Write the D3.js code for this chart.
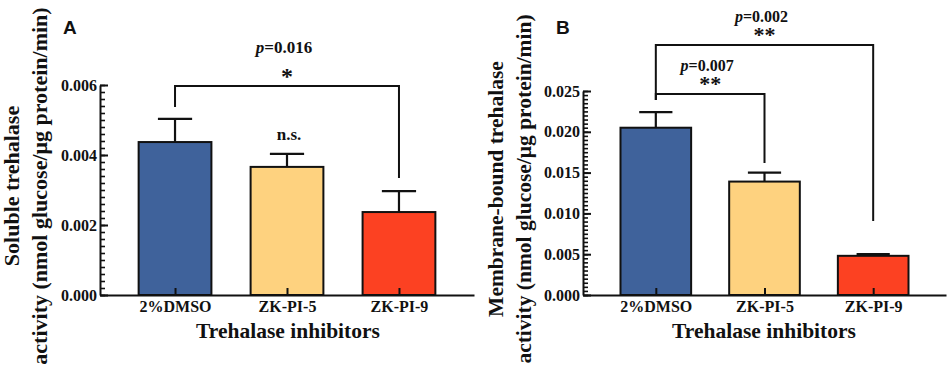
<!DOCTYPE html>
<html>
<head>
<meta charset="utf-8">
<script src="https://cdn.jsdelivr.net/npm/d3@7"></script>
<style>
    body { margin: 0; background: #fff; }
    svg { display: block; }
    text { font-family: 'Times New Roman', 'Liberation Serif', serif; font-weight: bold; fill: #111; }
    .panel-letter { font-family: Arial, 'Liberation Sans', sans-serif; }
</style>
</head>
<body>
<div id="chart"></div>
<script>
'use strict';

// Chart data
const categories = ['2%DMSO', 'ZK-PI-5', 'ZK-PI-9'];
const barColors = ['#3f629b', '#fed27f', '#fc4122'];

const solubleMeans = [0.00437, 0.00366, 0.00237];
const solubleErrors = [0.00066, 0.00037, 0.00060];
const solubleTicks = [0, 0.002, 0.004, 0.006];

const membraneMeans = [0.0205, 0.0139, 0.0048];
const membraneErrors = [0.0019, 0.0011, 0.0002];
const membraneTicks = [0, 0.005, 0.010, 0.015, 0.020, 0.025];

// significance brackets: bar value, leg end values and labels
const solubleBrackets = [
    { from: '2%DMSO', to: 'ZK-PI-9', level: 0.00597, leftEnd: 0.00537, rightEnd: 0.00334, p: '0.016', stars: '*' }
];
const solubleNotes = [
    { at: 'ZK-PI-5', text: 'n.s.' }
];
const membraneBrackets = [
    { from: '2%DMSO', to: 'ZK-PI-9', level: 0.03064, leftEnd: 0.0239, rightEnd: 0.00907, p: '0.002', stars: '**' },
    { from: '2%DMSO', to: 'ZK-PI-5', level: 0.02463, leftEnd: 0.0239, rightEnd: 0.01618, p: '0.007', stars: '**' }
];

const width = 948, height = 371;

const svg = d3.select('#chart').append('svg')
    .attr('width', width)
    .attr('height', height);

function drawPanel(cfg) {
    const g = svg.append('g');

    const x = d3.scalePoint()
        .domain(categories)
        .range([cfg.left, cfg.right])
        .padding(0.67);

    const y = d3.scaleLinear()
        .domain([0, d3.max(cfg.ticks)])
        .range([cfg.bottom, cfg.top]);

    const barW = x.step() * 0.65;
    const capW = barW * 0.47;

    const rows = categories.map((c, i) => ({
        cat: c, mean: cfg.means[i], err: cfg.errors[i], color: barColors[i]
    }));

    // error bars (behind the bars)
    g.selectAll('line.err')
        .data(rows)
        .join('line')
        .attr('x1', d => x(d.cat)).attr('x2', d => x(d.cat))
        .attr('y1', d => y(d.mean)).attr('y2', d => y(d.mean + d.err))
        .attr('stroke', '#111').attr('stroke-width', 2.2);

    g.selectAll('line.cap')
        .data(rows)
        .join('line')
        .attr('x1', d => x(d.cat) - capW / 2).attr('x2', d => x(d.cat) + capW / 2)
        .attr('y1', d => y(d.mean + d.err)).attr('y2', d => y(d.mean + d.err))
        .attr('stroke', '#111').attr('stroke-width', 2.2);

    g.selectAll('rect.bar')
        .data(rows)
        .join('rect')
        .attr('x', d => x(d.cat) - barW / 2)
        .attr('y', d => y(d.mean))
        .attr('width', barW)
        .attr('height', d => y(0) - y(d.mean))
        .attr('fill', d => d.color)
        .attr('stroke', '#111')
        .attr('stroke-width', 2);

    // x axis, ticks pointing up into the bars
    const axisX = g.append('g')
        .attr('transform', `translate(0, ${cfg.bottom})`)
        .call(d3.axisBottom(x).tickSizeInner(-7).tickSizeOuter(0).tickPadding(6));
    axisX.selectAll('path, line').attr('stroke', '#111').attr('stroke-width', 2);
    axisX.attr('font-family', null).attr('font-size', null);
    axisX.selectAll('text').style('font-size', '16px');

    // y axis, inward major and minor ticks
    const minorStep = cfg.ticks[1] / 10;
    const minor = d3.range(0, d3.max(cfg.ticks) + minorStep / 2, minorStep);
    const axisMinor = g.append('g')
        .attr('transform', `translate(${cfg.left}, 0)`)
        .call(d3.axisLeft(y).tickValues(minor).tickSizeInner(-5).tickSizeOuter(0).tickFormat(''));
    axisMinor.select('.domain').remove();
    axisMinor.selectAll('line').attr('stroke', '#111').attr('stroke-width', 1.6);

    const axisY = g.append('g')
        .attr('transform', `translate(${cfg.left}, 0)`)
        .call(d3.axisLeft(y).tickValues(cfg.ticks).tickSizeInner(-8).tickSizeOuter(0)
            .tickPadding(3).tickFormat(d3.format('.3f')));
    axisY.selectAll('path, line').attr('stroke', '#111').attr('stroke-width', 2);
    axisY.attr('font-family', null).attr('font-size', null);
    axisY.selectAll('text').style('font-size', '16px');

    // axis titles
    g.append('text')
        .attr('x', cfg.xTitleX).attr('y', 338)
        .attr('text-anchor', 'middle')
        .style('font-size', '21.5px')
        .text('Trehalase inhibitors');

    cfg.yTitle.forEach((line, i) => {
        g.append('text')
            .attr('transform', `translate(${cfg.yTitleX[i]}, ${cfg.yTitleY}) rotate(-90)`)
            .attr('text-anchor', 'middle')
            .style('font-size', cfg.yTitleSize)
            .text(line);
    });

    g.append('text')
        .classed('panel-letter', true)
        .attr('x', cfg.letterX).attr('y', 34)
        .style('font-size', '19px')
        .text(cfg.letter);

    // significance brackets
    cfg.brackets.forEach(b => {
        const x1 = x(b.from), x2 = x(b.to), yl = y(b.level);
        g.append('path')
            .attr('d', `M${x1},${y(b.leftEnd)}V${yl}H${x2}V${y(b.rightEnd)}`)
            .attr('fill', 'none')
            .attr('stroke', '#111')
            .attr('stroke-width', 2);

        const mid = (x1 + x2) / 2;
        const pText = g.append('text')
            .attr('x', mid - 3).attr('y', yl - cfg.pGap)
            .attr('text-anchor', 'middle')
            .style('font-size', cfg.pSize);
        pText.append('tspan').style('font-style', 'italic').text('p');
        pText.append('tspan').text('=' + b.p);

        g.append('text')
            .attr('x', mid).attr('y', yl - cfg.starGap)
            .attr('text-anchor', 'middle')
            .style('font-size', cfg.starSize)
            .text(b.stars);
    });

    cfg.notes.forEach(n => {
        const i = categories.indexOf(n.at);
        g.append('text')
            .attr('x', x(n.at) + 2)
            .attr('y', y(cfg.means[i] + cfg.errors[i]) - 14)
            .attr('text-anchor', 'middle')
            .style('font-size', '17px')
            .text(n.text);
    });
}

drawPanel({
    letter: 'A', letterX: 63,
    left: 100, right: 474, top: 85, bottom: 295,
    means: solubleMeans, errors: solubleErrors, ticks: solubleTicks,
    brackets: solubleBrackets, notes: solubleNotes,
    pGap: 33, pSize: '17px', starGap: 2, starSize: '24px',
    xTitleX: 288,
    yTitle: ['Soluble trehalase', 'activity (nmol glucose/μg protein/min)'],
    yTitleX: [19, 47], yTitleY: 186, yTitleSize: '22px'
});

drawPanel({
    letter: 'B', letterX: 556,
    left: 583, right: 946, top: 91, bottom: 295,
    means: membraneMeans, errors: membraneErrors, ticks: membraneTicks,
    brackets: membraneBrackets, notes: [],
    pGap: 23, pSize: '16px', starGap: 3, starSize: '22px',
    xTitleX: 764,
    yTitle: ['Membrane-bound trehalase', 'activity (nmol glucose/μg protein/min)'],
    yTitleX: [503, 531], yTitleY: 189, yTitleSize: '21.5px'
});
</script>
</body>
</html>
